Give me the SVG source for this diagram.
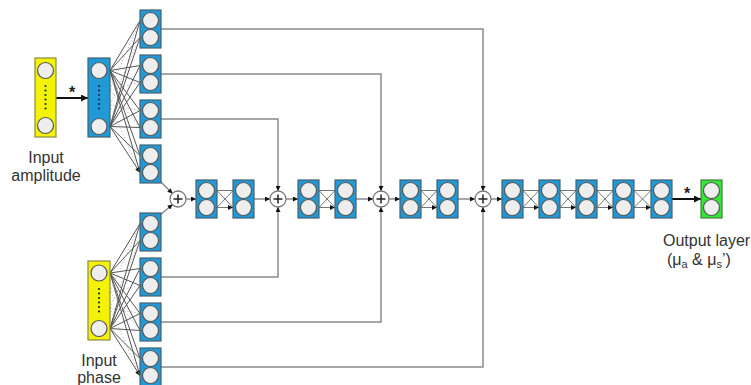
<svg xmlns="http://www.w3.org/2000/svg" xmlns:xlink="http://www.w3.org/1999/xlink" width="751" height="385" viewBox="0 0 751 385">
<style>
.blk{fill:#1f9ad6;stroke:#46606f;stroke-width:1.2}
.yel{fill:#f5f20a;stroke:#8a8a40;stroke-width:1.2}
.grn{fill:#33e833;stroke:#4a7a4a;stroke-width:1.2}
.cir{fill:#eeeeee;stroke:#555;stroke-width:1.2}
.dot{fill:#1a2a50}
.ln{stroke:#8a8a8a;stroke-width:1.5;fill:none}
.fan{stroke:#555;stroke-width:1;fill:none}
.fand{stroke:#aaa;stroke-width:0.8;fill:none;stroke-dasharray:1.5 2}
.x{stroke:#777;stroke-width:1;fill:none}
.bk{stroke:#111;stroke-width:2;fill:none}
.plus{fill:#fff;stroke:#777;stroke-width:1.3}
.pl{stroke:#222;stroke-width:1.5}
text{font-family:"Liberation Sans",Arial,sans-serif;fill:#333}
.lbl{font-size:16px}
.star{font-size:16px;font-weight:bold;fill:#222}
</style>
<defs>
<marker id="ah" viewBox="0 0 10 10" refX="10" refY="5" markerWidth="5" markerHeight="5" markerUnits="userSpaceOnUse" orient="auto"><path d="M0,0 L10,5 L0,10 z" fill="#111"/></marker>
<marker id="ahb" viewBox="0 0 10 10" refX="10" refY="5" markerWidth="7" markerHeight="7" markerUnits="userSpaceOnUse" orient="auto"><path d="M0,0 L10,5 L0,10 z" fill="#111"/></marker>
<g id="b2"><rect class="blk" x="0" y="0" width="21" height="38"/><circle class="cir" cx="10.5" cy="10.5" r="8"/><circle class="cir" cx="10.5" cy="27.5" r="8"/></g>
<g id="g2"><rect class="grn" x="0" y="0" width="21" height="38"/><circle class="cir" cx="10.5" cy="10.5" r="8"/><circle class="cir" cx="10.5" cy="27.5" r="8"/></g>
<g id="pls"><circle class="plus" cx="0" cy="0" r="8"/><line class="pl" x1="-4.5" y1="0" x2="4.5" y2="0"/><line class="pl" x1="0" y1="-4.5" x2="0" y2="4.5"/></g>
<g id="dots"><circle class="dot" cx="0" cy="0" r="1.1"/><circle class="dot" cx="0" cy="4.5" r="1.1"/><circle class="dot" cx="0" cy="9" r="1.1"/><circle class="dot" cx="0" cy="13.5" r="1.1"/><circle class="dot" cx="0" cy="18" r="1.1"/><circle class="dot" cx="0" cy="22.5" r="1.1"/></g>
</defs>

<g id="connectors">
<line class="bk" x1="56" y1="98" x2="88" y2="98" marker-end="url(#ahb)"/>
<g>
<path class="fan" marker-end="url(#ah)" d="M110,70.5 L140,20.5 M110,70.5 L140,37.5 M110,70.5 L140,65.5 M110,70.5 L140,82.5 M110,70.5 L140,110.5 M110,70.5 L140,127.5 M110,70.5 L140,155.5 M110,70.5 L140,172.5"/>
<path class="fan" marker-end="url(#ah)" d="M110,126.5 L140,20.5 M110,126.5 L140,37.5 M110,126.5 L140,65.5 M110,126.5 L140,82.5 M110,126.5 L140,110.5 M110,126.5 L140,127.5 M110,126.5 L140,155.5 M110,126.5 L140,172.5"/>
<path class="fand" d="M110,90 L140,20.5 M110,90 L140,82.5 M110,90 L140,127.5 M110,105 L140,37.5 M110,105 L140,110.5 M110,105 L140,172.5"/>
</g>
<g>
<path class="fan" marker-end="url(#ah)" d="M110,273 L140,223.5 M110,273 L140,240.5 M110,273 L140,268.5 M110,273 L140,285.5 M110,273 L140,313.5 M110,273 L140,330.5 M110,273 L140,358.5 M110,273 L140,375.5"/>
<path class="fan" marker-end="url(#ah)" d="M110,328.5 L140,223.5 M110,328.5 L140,240.5 M110,328.5 L140,268.5 M110,328.5 L140,285.5 M110,328.5 L140,313.5 M110,328.5 L140,330.5 M110,328.5 L140,358.5 M110,328.5 L140,375.5"/>
<path class="fand" d="M110,292 L140,223.5 M110,292 L140,285.5 M110,292 L140,330.5 M110,308 L140,240.5 M110,308 L140,313.5 M110,308 L140,375.5"/>
</g>
<path class="ln" marker-end="url(#ah)" d="M161,29 H483 V191"/>
<path class="ln" marker-end="url(#ah)" d="M161,74 H381 V191"/>
<path class="ln" marker-end="url(#ah)" d="M161,119 H278 V191"/>
<path class="ln" marker-end="url(#ah)" d="M161,277 H278 V207"/>
<path class="ln" marker-end="url(#ah)" d="M161,322 H381 V207"/>
<path class="ln" marker-end="url(#ah)" d="M161,367 H483 V207"/>
<path class="ln" marker-end="url(#ah)" d="M160,181 L172.5,193.5"/>
<path class="ln" marker-end="url(#ah)" d="M160,215 L172.5,204.5"/>
<path class="ln" marker-end="url(#ah)" d="M186,199 H196"/>
<path class="ln" marker-end="url(#ah)" d="M254,199 H270"/>
<path class="ln" marker-end="url(#ah)" d="M286,199 H298"/>
<path class="ln" marker-end="url(#ah)" d="M356,199 H373"/>
<path class="ln" marker-end="url(#ah)" d="M389,199 H400"/>
<path class="ln" marker-end="url(#ah)" d="M458,199 H475"/>
<path class="ln" marker-end="url(#ah)" d="M491,199 H502"/>
<path class="x" marker-end="url(#ah)" d="M217,190.5 L233,190.5 M217,190.5 L233,207.5 M217,207.5 L233,190.5 M217,207.5 L233,207.5"/>
<path class="x" marker-end="url(#ah)" d="M319,190.5 L335,190.5 M319,190.5 L335,207.5 M319,207.5 L335,190.5 M319,207.5 L335,207.5"/>
<path class="x" marker-end="url(#ah)" d="M421,190.5 L437,190.5 M421,190.5 L437,207.5 M421,207.5 L437,190.5 M421,207.5 L437,207.5"/>
<path class="x" marker-end="url(#ah)" d="M523,190.5 L539,190.5 M523,190.5 L539,207.5 M523,207.5 L539,190.5 M523,207.5 L539,207.5"/>
<path class="x" marker-end="url(#ah)" d="M560,190.5 L576,190.5 M560,190.5 L576,207.5 M560,207.5 L576,190.5 M560,207.5 L576,207.5"/>
<path class="x" marker-end="url(#ah)" d="M597,190.5 L613,190.5 M597,190.5 L613,207.5 M597,207.5 L613,190.5 M597,207.5 L613,207.5"/>
<path class="x" marker-end="url(#ah)" d="M634,190.5 L651,190.5 M634,190.5 L651,207.5 M634,207.5 L651,190.5 M634,207.5 L651,207.5"/>
<line class="bk" x1="672" y1="199" x2="701" y2="199" marker-end="url(#ahb)"/>
<text class="star" x="72" y="98" text-anchor="middle">*</text>
<text class="star" x="687" y="199" text-anchor="middle">*</text>
</g>

<g id="input-amplitude">
<rect class="yel" x="35" y="58" width="21" height="79"/>
<circle class="cir" cx="45.5" cy="70.5" r="8"/>
<circle class="cir" cx="45.5" cy="125.5" r="8"/>
<use xlink:href="#dots" x="45.5" y="86"/>
<text class="lbl" x="46" y="163" text-anchor="middle">Input</text>
<text class="lbl" x="46" y="181" text-anchor="middle">amplitude</text>
</g>
<g id="dense-in">
<rect class="blk" x="88" y="58" width="22" height="79"/>
<circle class="cir" cx="99" cy="70.5" r="8"/>
<circle class="cir" cx="99" cy="126.5" r="8"/>
<use xlink:href="#dots" x="99" y="86"/>
</g>
<g id="input-phase">
<rect class="yel" x="88" y="261" width="22" height="79"/>
<circle class="cir" cx="99" cy="273" r="8"/>
<circle class="cir" cx="99" cy="328.5" r="8"/>
<use xlink:href="#dots" x="99" y="289"/>
<text class="lbl" x="99" y="366" text-anchor="middle">Input</text>
<text class="lbl" x="99" y="383" text-anchor="middle">phase</text>
</g>

<g id="branch-a1"><use xlink:href="#b2" x="140" y="10"/></g>
<g id="branch-a2"><use xlink:href="#b2" x="140" y="55"/></g>
<g id="branch-a3"><use xlink:href="#b2" x="140" y="100"/></g>
<g id="branch-a4"><use xlink:href="#b2" x="140" y="145"/></g>
<g id="branch-p1"><use xlink:href="#b2" x="140" y="213"/></g>
<g id="branch-p2"><use xlink:href="#b2" x="140" y="258"/></g>
<g id="branch-p3"><use xlink:href="#b2" x="140" y="303"/></g>
<g id="branch-p4"><use xlink:href="#b2" x="140" y="348"/></g>

<g id="add1"><use xlink:href="#pls" x="178" y="199"/></g>
<g id="add2"><use xlink:href="#pls" x="278" y="199"/></g>
<g id="add3"><use xlink:href="#pls" x="381" y="199"/></g>
<g id="add4"><use xlink:href="#pls" x="483" y="199"/></g>

<g id="m1"><use xlink:href="#b2" x="196" y="180"/></g>
<g id="m2"><use xlink:href="#b2" x="233" y="180"/></g>
<g id="m3"><use xlink:href="#b2" x="298" y="180"/></g>
<g id="m4"><use xlink:href="#b2" x="335" y="180"/></g>
<g id="m5"><use xlink:href="#b2" x="400" y="180"/></g>
<g id="m6"><use xlink:href="#b2" x="437" y="180"/></g>
<g id="m7"><use xlink:href="#b2" x="502" y="180"/></g>
<g id="m8"><use xlink:href="#b2" x="539" y="180"/></g>
<g id="m9"><use xlink:href="#b2" x="576" y="180"/></g>
<g id="m10"><use xlink:href="#b2" x="613" y="180"/></g>
<g id="m11"><use xlink:href="#b2" x="651" y="180"/></g>

<g id="output">
<use xlink:href="#g2" x="701" y="180"/>
<text class="lbl" x="663" y="246">Output layer</text>
<text class="lbl" x="667" y="265">(μ<tspan font-size="11" dy="3">a</tspan><tspan dy="-3"> &amp; μ</tspan><tspan font-size="11" dy="3">s</tspan><tspan dy="-3">’)</tspan></text>
</g>
</svg>
